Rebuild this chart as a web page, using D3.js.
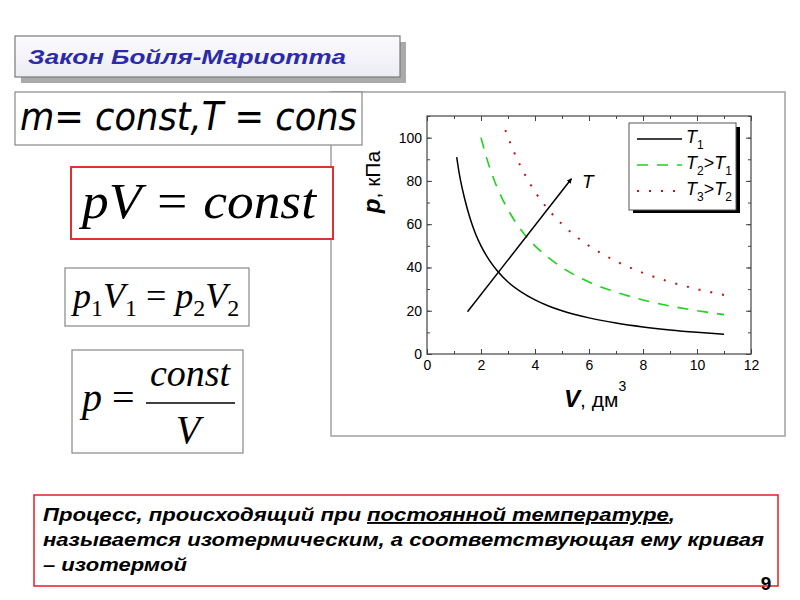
<!DOCTYPE html>
<html>
<head>
<meta charset="utf-8">
<script src="https://cdn.jsdelivr.net/npm/d3@7"></script>
<style>
  body { margin: 0; background: #fff; }
</style>
</head>
<body>
<script>
// ##########################################   DATA
// isotherm T1
const v1 = [1.1, 1.2, 1.4, 1.6, 1.8, 2, 2.3, 2.6, 3, 3.5, 4, 4.5, 5, 6, 7, 8, 9, 10, 11];
const p1 = [91, 83, 71.5, 62.5, 55.5, 50, 43.5, 38.5, 33.3, 28.6, 25, 22.2, 20, 16.7, 14.3, 12.5, 11.1, 10, 9.1];
// isotherm T2 > T1
const v2 = [2, 2.2, 2.5, 2.8, 3.2, 3.6, 4, 4.5, 5, 6, 7, 8, 9, 10, 11];
const p2 = [100, 91, 80, 71.5, 62.5, 55.5, 50, 44.5, 40, 33.3, 28.6, 25, 22.2, 20, 18.2];
// isotherm T3 > T2
const v3 = [2.9, 3.2, 3.6, 4, 4.5, 5, 5.5, 6, 7, 8, 9, 10, 11];
const p3 = [103.5, 94, 83.5, 75, 66.7, 60, 54.5, 50, 42.9, 37.5, 33.3, 30, 27.3];
// arrow "T" (direction of growing temperature)
const arrowV = [1.5, 5.35];
const arrowP = [19.5, 81];

const xTicks = [0, 2, 4, 6, 8, 10, 12];
const yTicks = [0, 20, 40, 60, 80, 100];
const seriesNames = ['T1', 'T2>T1', 'T3>T2'];

const sans = '"Liberation Sans", Arial, sans-serif';
const serif = '"Liberation Serif", "Times New Roman", serif';

// ##########################################   PAGE
const svg = d3.select('body').append('svg')
  .attr('width', 800)
  .attr('height', 600)
  .attr('font-family', sans);

const defs = svg.append('defs');
const grad = defs.append('linearGradient')
  .attr('id', 'titleFill')
  .attr('x1', 0).attr('y1', 0).attr('x2', 0).attr('y2', 1);
grad.append('stop').attr('offset', '0%').attr('stop-color', '#fbfbfe');
grad.append('stop').attr('offset', '100%').attr('stop-color', '#ececf4');

defs.append('marker')
  .attr('id', 'arrowHead')
  .attr('viewBox', '0 0 10 10')
  .attr('refX', 9).attr('refY', 5)
  .attr('markerWidth', 5).attr('markerHeight', 5)
  .attr('markerUnits', 'userSpaceOnUse')
  .attr('orient', 'auto')
  .append('path')
  .attr('d', 'M0,0 L10,5 L0,10 z')
  .attr('fill', '#000');

// title box with its grey shadow
svg.append('rect')
  .attr('x', 21).attr('y', 42).attr('width', 385).attr('height', 41)
  .attr('fill', '#aaaaaa');
svg.append('rect')
  .attr('x', 15).attr('y', 36).attr('width', 385).attr('height', 41)
  .attr('fill', 'url(#titleFill)')
  .attr('stroke', '#7a7a7a')
  .attr('stroke-width', 1.2);
svg.append('text')
  .attr('x', 28).attr('y', 64)
  .attr('font-size', 21)
  .attr('font-weight', 'bold')
  .attr('font-style', 'italic')
  .attr('fill', '#2b2ba8')
  .attr('textLength', 318)
  .attr('lengthAdjust', 'spacingAndGlyphs')
  .text('Закон Бойля-Мариотта');

// grey frame around the chart (drawn first, formula boxes cover its left edge)
svg.append('rect')
  .attr('x', 331).attr('y', 92).attr('width', 454).attr('height', 344)
  .attr('fill', 'none')
  .attr('stroke', '#a0a0a0')
  .attr('stroke-width', 1.5);

// ##########################################   THE CHART
const x = d3.scaleLinear().domain([0, 12]).range([427, 751]);
const y = d3.scaleLinear().domain([0, 110]).range([354, 116]);

const plot = svg.append('g').attr('class', 'plot');

// axes - ticks point inside, mirrored on top and right
const axisColor = '#444';
function styleAxis(g) {
  g.attr('font-family', sans).attr('font-size', 14);
  g.select('.domain').remove();
  g.selectAll('line').attr('stroke', axisColor);
  g.selectAll('text').attr('fill', '#000');
}

plot.append('g')
  .attr('transform', `translate(0,${y(0)})`)
  .call(d3.axisBottom(x).tickValues(d3.range(0, 13, 1)).tickSizeInner(-3).tickSizeOuter(0).tickFormat(''))
  .call(styleAxis);
plot.append('g')
  .attr('transform', `translate(0,${y(0)})`)
  .call(d3.axisBottom(x).tickValues(xTicks).tickSizeInner(-5).tickSizeOuter(0).tickPadding(6))
  .call(styleAxis);
plot.append('g')
  .attr('transform', `translate(0,${y(110)})`)
  .call(d3.axisTop(x).tickValues(d3.range(0, 13, 1)).tickSizeInner(-3).tickSizeOuter(0).tickFormat(''))
  .call(styleAxis);
plot.append('g')
  .attr('transform', `translate(0,${y(110)})`)
  .call(d3.axisTop(x).tickValues(xTicks).tickSizeInner(-5).tickSizeOuter(0).tickFormat(''))
  .call(styleAxis);

plot.append('g')
  .attr('transform', `translate(${x(0)},0)`)
  .call(d3.axisLeft(y).tickValues(d3.range(0, 111, 10)).tickSizeInner(-3).tickSizeOuter(0).tickFormat(''))
  .call(styleAxis);
plot.append('g')
  .attr('transform', `translate(${x(0)},0)`)
  .call(d3.axisLeft(y).tickValues(yTicks).tickSizeInner(-5).tickSizeOuter(0).tickPadding(5))
  .call(styleAxis);
plot.append('g')
  .attr('transform', `translate(${x(12)},0)`)
  .call(d3.axisRight(y).tickValues(d3.range(0, 111, 10)).tickSizeInner(-3).tickSizeOuter(0).tickFormat(''))
  .call(styleAxis);
plot.append('g')
  .attr('transform', `translate(${x(12)},0)`)
  .call(d3.axisRight(y).tickValues(yTicks).tickSizeInner(-5).tickSizeOuter(0).tickFormat(''))
  .call(styleAxis);

// frame of the plot area
plot.append('rect')
  .attr('x', x(0)).attr('y', y(110))
  .attr('width', x(12) - x(0)).attr('height', y(0) - y(110))
  .attr('fill', 'none')
  .attr('stroke', axisColor)
  .attr('stroke-width', 1.2);

// the three isotherms
const series = [
  { name: seriesNames[0], v: v1, p: p1, color: '#000000', dash: null, width: 1.5 },
  { name: seriesNames[1], v: v2, p: p2, color: '#1ed21e', dash: '11,9', width: 1.6 },
  { name: seriesNames[2], v: v3, p: p3, color: '#cc1010', dash: '2,10', width: 2 }
];

const line = d3.line()
  .x(d => x(d[0]))
  .y(d => y(d[1]))
  .curve(d3.curveMonotoneX);

plot.selectAll('path.isotherm')
  .data(series)
  .join('path')
  .classed('isotherm', true)
  .attr('d', d => line(d3.zip(d.v, d.p)))
  .attr('fill', 'none')
  .attr('stroke', d => d.color)
  .attr('stroke-width', d => d.width)
  .attr('stroke-dasharray', d => d.dash);

// arrow showing the temperature growth
plot.append('line')
  .attr('x1', x(arrowV[0])).attr('y1', y(arrowP[0]))
  .attr('x2', x(arrowV[1])).attr('y2', y(arrowP[1]))
  .attr('stroke', '#000')
  .attr('stroke-width', 1.5)
  .attr('marker-end', 'url(#arrowHead)');
plot.append('text')
  .attr('x', 582).attr('y', 188)
  .attr('font-size', 19)
  .attr('font-style', 'italic')
  .text('T');

// axis titles
const xLabel = plot.append('text')
  .attr('x', 564).attr('y', 407)
  .attr('font-size', 21);
xLabel.append('tspan').attr('font-weight', 'bold').attr('font-style', 'italic').attr('font-size', 24).text('V');
xLabel.append('tspan').text(', дм');
xLabel.append('tspan').attr('font-size', 14).attr('dy', -16).text('3');

const yLabel = plot.append('text')
  .attr('transform', 'translate(380,182) rotate(-90)')
  .attr('text-anchor', 'middle')
  .attr('font-size', 21);
yLabel.append('tspan').attr('font-weight', 'bold').attr('font-style', 'italic').attr('font-size', 24).text('p');
yLabel.append('tspan').text(', кПа');

// legend with its black shadow
const legend = plot.append('g').attr('class', 'legend');
legend.append('rect')
  .attr('x', 633).attr('y', 127).attr('width', 107).attr('height', 86)
  .attr('fill', '#000');
legend.append('rect')
  .attr('x', 629).attr('y', 123).attr('width', 107).attr('height', 87)
  .attr('fill', '#fff')
  .attr('stroke', '#555')
  .attr('stroke-width', 1);

const rowY = d3.scalePoint().domain(seriesNames).range([139, 191]);
legend.selectAll('line.key')
  .data(series)
  .join('line')
  .classed('key', true)
  .attr('x1', 637).attr('x2', 682)
  .attr('y1', d => rowY(d.name)).attr('y2', d => rowY(d.name))
  .attr('stroke', d => d.color)
  .attr('stroke-width', d => d.width)
  .attr('stroke-dasharray', d => d.dash);

// label pieces: [text, isSubscript]
const legendParts = [
  [['T', false], ['1', true]],
  [['T', false], ['2', true], ['>', false], ['T', false], ['1', true]],
  [['T', false], ['3', true], ['>', false], ['T', false], ['2', true]]
];
series.forEach((s, i) => {
  const t = legend.append('text')
    .attr('x', 686).attr('y', rowY(s.name) + 4)
    .attr('font-size', 18);
  let down = false;
  legendParts[i].forEach(([txt, sub]) => {
    const ts = t.append('tspan').text(txt);
    if (sub) {
      ts.attr('font-size', 12).attr('dy', 6);
      down = true;
    } else {
      ts.attr('font-style', txt === 'T' ? 'italic' : 'normal');
      if (down) { ts.attr('dy', -6); down = false; }
    }
  });
});

// ##########################################   FORMULA BOXES
function box(x0, y0, w, h, stroke, sw) {
  svg.append('rect')
    .attr('x', x0).attr('y', y0).attr('width', w).attr('height', h)
    .attr('fill', '#fff')
    .attr('stroke', stroke)
    .attr('stroke-width', sw);
}

box(15, 92, 347, 53, '#888', 1.2);
svg.append('text')
  .attr('x', 20).attr('y', 130)
  .attr('font-family', '"DejaVu Sans", Verdana, sans-serif')
  .attr('font-size', 39)
  .attr('font-style', 'italic')
  .attr('textLength', 337)
  .attr('lengthAdjust', 'spacingAndGlyphs')
  .text('m= const,T = cons');

box(71, 167, 262, 72, '#e03030', 2);
svg.append('text')
  .attr('x', 82).attr('y', 218)
  .attr('font-family', serif)
  .attr('font-size', 50)
  .attr('font-style', 'italic')
  .attr('textLength', 234)
  .attr('lengthAdjust', 'spacingAndGlyphs')
  .text('pV = const');

box(65, 268, 184, 58, '#888', 1.2);
const eq2 = svg.append('text')
  .attr('x', 73).attr('y', 308)
  .attr('font-family', serif)
  .attr('font-size', 36);
[['p', 'i'], ['1', 's'], ['V', 'i'], ['1', 's'], [' = ', 'n'], ['p', 'i'], ['2', 's'], ['V', 'i'], ['2', 's']]
  .forEach(([txt, kind], k, arr) => {
    const ts = eq2.append('tspan').text(txt);
    if (kind === 'i') ts.attr('font-style', 'italic');
    if (kind === 's') ts.attr('font-size', 24).attr('dy', 8);
    if (kind !== 's' && k > 0 && arr[k - 1][1] === 's') ts.attr('dy', -8);
  });

box(72, 350, 171, 103, '#888', 1.2);
const pEq = svg.append('text')
  .attr('x', 82).attr('y', 411)
  .attr('font-family', serif)
  .attr('font-size', 40);
pEq.append('tspan').attr('font-style', 'italic').text('p');
pEq.append('tspan').text(' =');
svg.append('text')
  .attr('x', 190).attr('y', 386)
  .attr('text-anchor', 'middle')
  .attr('font-family', serif)
  .attr('font-size', 38)
  .attr('font-style', 'italic')
  .text('const');
svg.append('line')
  .attr('x1', 146).attr('x2', 235)
  .attr('y1', 403).attr('y2', 403)
  .attr('stroke', '#000')
  .attr('stroke-width', 1.5);
svg.append('text')
  .attr('x', 188).attr('y', 443)
  .attr('text-anchor', 'middle')
  .attr('font-family', serif)
  .attr('font-size', 40)
  .attr('font-style', 'italic')
  .text('V');

// ##########################################   BOTTOM NOTE
box(34, 495, 744, 91, '#e02020', 1.5);
const noteSize = 19;
const l1 = svg.append('text')
  .attr('x', 43).attr('y', 521)
  .attr('font-size', noteSize)
  .attr('font-weight', 'bold')
  .attr('font-style', 'italic')
  .attr('textLength', 632)
  .attr('lengthAdjust', 'spacingAndGlyphs');
l1.append('tspan').text('Процесс, происходящий при ');
l1.append('tspan').style('text-decoration', 'underline').text('постоянной температуре');
l1.append('tspan').text(',');

svg.append('text')
  .attr('x', 43).attr('y', 546)
  .attr('font-size', noteSize)
  .attr('font-weight', 'bold')
  .attr('font-style', 'italic')
  .attr('textLength', 721)
  .attr('lengthAdjust', 'spacingAndGlyphs')
  .text('называется изотермическим, а соответствующая ему кривая');
svg.append('text')
  .attr('x', 43).attr('y', 571)
  .attr('font-size', noteSize)
  .attr('font-weight', 'bold')
  .attr('font-style', 'italic')
  .attr('textLength', 144)
  .attr('lengthAdjust', 'spacingAndGlyphs')
  .text('– изотермой');

// slide number
svg.append('text')
  .attr('x', 766).attr('y', 590)
  .attr('text-anchor', 'middle')
  .attr('font-size', 19)
  .attr('font-weight', 'bold')
  .text('9');
</script>
</body>
</html>
